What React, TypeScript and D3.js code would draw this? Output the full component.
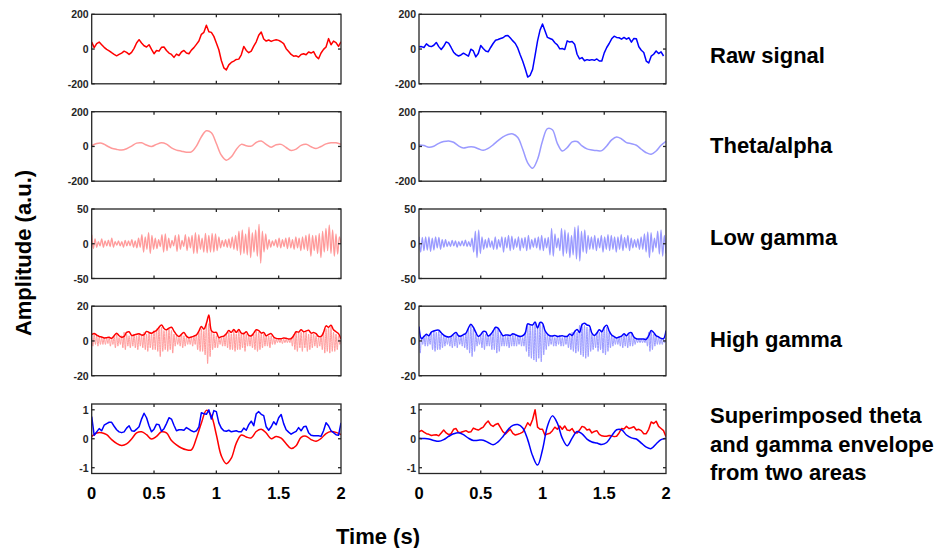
import React from "react";
import * as d3 from "d3";

// ---------------- data ----------------
const xTickValues = [0, 0.5, 1, 1.5, 2];
const xTickLabels = ["0", "0.5", "1", "1.5", "2"];
const rowLabels = [
  ["Raw signal"],
  ["Theta/alpha"],
  ["Low gamma"],
  ["High gamma"],
  ["Superimposed theta", "and gamma envelope", "from two areas"],
];
const rawTicks = [-200, 0, 200];
const thetaTicks = [-200, 0, 200];
const lowGammaTicks = [-50, 0, 50];
const highGammaTicks = [-20, 0, 20];
const overlayTicks = [-1, 0, 1];

// Raw signal, sampled every 0.02 s
const leftRaw = [40, 8, 31, 40, 25, 10, -2, -10, -21, -31,
  -39, -31, -23, -12, -19, -31, -19, 4, 35, 54,
  35, 19, 12, 25, -2, -27, -8, -12, 10, 12,
  -8, -23, -31, -48, -29, -37, -17, -8, -23, -27,
  -6, 8, 27, 46, 85, 96, 137, 100, 96, 73,
  35, -4, -66, -108, -120, -91, -77, -69, -60, -58,
  -33, 15, -8, -21, -12, 17, 42, 79, 98, 58,
  46, 52, 44, 50, 54, 50, 42, 31, 2, -14,
  -31, -41, -39, -46, -31, -27, -33, -17, -23, -15,
  -42, -56, -23, -2, 12, 60, 25, 46, 37, 15,
  42];
const rightRaw = [13, 14, 9, 30, 18, 14, 22, 38, 14, -3,
  16, 41, 34, 9, -18, -32, -40, -34, -24, -32,
  -41, -1, -11, -45, -26, 20, 3, -11, -16, 9,
  32, 51, 55, 61, 65, 76, 78, 63, 47, 32,
  5, -34, -70, -113, -161, -151, -117, -36, 47, 109,
  144, 105, 67, 61, 55, 36, 24, 1, 3, -3,
  47, 40, 43, 28, -30, -57, -49, -67, -61, -65,
  -61, -65, -57, -69, -69, -22, 9, 32, 59, 74,
  67, 65, 57, 67, 57, 65, 40, 61, 59, 13,
  -7, -20, -69, -80, -41, -30, -11, -26, -16, -40];

// Theta/alpha, sampled every 0.04 s
const leftTheta = [4, 17, 19, 4, -10, -17, -21, -13, 2, 19, 21, 8, 0, 12, 21, 13, -8, -21, -27, -33,
  -31, 2, 56, 90, 79, 17, -50, -79, -60, -17, 12, 4, 2, 23, 31, 12, -4, 10, 12, -6,
  -23, -15, 6, 12, -2, -12, 0, 15, 21, 21, 12];
const rightTheta = [9, 5, -5, 1, 18, 28, 32, 24, 3, -9, -3, -3, -13, -22, -11, 9, 34, 55, 69, 72,
  51, -16, -94, -125, -74, 32, 103, 96, 18, -26, -7, 26, 28, 3, -14, -20, -24, -24, 3, 38,
  55, 43, 22, 16, 7, -16, -36, -45, -26, 7, 30];

// Low gamma, successive peaks and troughs (150 over 2 s)
const leftLowGamma = [13, -7, 7, -5, 3, -3, 7, -5, 4, -3, 5, -4, 8, -5, 3, -2, 4, -3, 3, -5, 5, -3, 4, -3, 6, -5, 4, -6, 8, -5,
  13, -12, 10, -8, 16, -14, 12, -8, 8, -7, 6, -4, 13, -12, 14, -10, 8, -6, 5, -3, 12, -11, 13, -8, 5, -4, 13, -10, 10, -6,
  12, -14, 16, -14, 13, -8, 8, -12, 15, -13, 12, -12, 15, -12, 14, -10, 10, -6, 5, -4, 6, -5, 7, -6,
  10, -8, 12, -10, 18, -16, 20, -14, 14, -16, 24, -20, 16, -12, 20, -18, 28, -28, 18, -12, 14, -8,
  6, -5, 4, -3, 6, -5, 8, -6, 6, -4, 8, -7, 9, -6,
  6, -8, 10, -6, 8, -10, 10, -8, 12, -10, 14, -18, 12, -10, 12, -14, 15, -20, 18, -12, 22, -10, 27, -14, 20, -18, 14, -15, 10, 0];
const rightLowGamma = [10, -12, 9, -10, 10, -9, 10, -11, 8, -9, 10, -6, 9, -8, 6, -5, 6,
  -4, 3, -4, 5, -3, 4, -5, 3, -3, 4, -3, 5, -4, 3, -4, 8,
  -12, 18, -20, 20, -14, 10, -8,
  6, -6, 8, -5, 4, -8, 10, -8, 6, -5, 10, -12, 9, -6, 12, -10, 11, -8, 7, -5, 10, -10, 8, -6, 9, -10, 12, -8, 6, -5, 8, -6, 10, -9, 12, -10, 8, -6, 9,
  -16, 22, -18, 14, -6, 8, -10, 22, -18, 20, -14, 16, -20, 12, -16, 24, -22, 26, -25, 18, -12, 20, -14, 12, -8,
  10, -8, 12, -10, 8, -6, 12, -12, 10, -8, 13, -10, 12, -8, 10, -12, 10, -8, 13, -10, 9, -6, 12, -10, 8, -6, 6,
  -5, 7, -8, 10, -8, 14, -12, 17, -20, 16, -12, 8, -6, 18, -15, 20, -18, 12, -14];

// High gamma, sampled every 0.01 s
const leftHighGamma = [3, -3, 4, -2, 3, -3, 2, -2, 2, -2,
  2, -2, 1.5, -1.5, 2, -3, 1.5, -2, 3, -4,
  4, -3, 2, -2, 3, -4, 5, -5, 4, -3,
  3, -4, 3, -3, 4, -4, 3, -5, 4, -3,
  3, -4, 5, -5, 4, -6, 5, -4, 4, -5,
  6, -5, 7, -6, 8, -9, 8, -6, 6, -5,
  6, -6, 7, -5, 6, -7, 4, -3, 3, -2,
  2, -3, 4, -4, 3, -3, 2, -2, 2, -2,
  2, -3, 3, -2, 4, -5, 5, -6, 7, -6,
  6, -8, 11, -13, 10, -9, 6, -5, 4, -4,
  3, -4, 2, -2, 2, -3, 3, -3, 4, -4,
  5, -5, 4, -5, 6, -6, 4, -5, 6, -5,
  4, -4, 5, -6, 4, -3, 3, -3, 3, -4,
  4, -5, 6, -6, 5, -5, 4, -4, 4, -3,
  3, -3, 3, -4, 3, -2, 2, -2, 1, -1,
  1, -1, 1, -1.5, 1, -1, 1, -1, 1, -1,
  2, -3, 4, -5, 5, -6, 5, -4, 5, -6,
  5, -4, 5, -6, 4, -5, 4, -4, 4, -3,
  3, -4, 2, -3, 3, -5, 5, -7, 7, -6,
  8, -7, 8, -6, 5, -6, 4, -5, 3, -2,
  1];
const rightHighGamma = [8, -7, 2, -2, 3, -3, 4, -3, 3, -2,
  5, -5, 6, -6, 5, -5, 6, -5, 4, -4,
  3, -3, 2, -2, 2, -3, 3, -4, 4, -3,
  4, -4, 3, -2, 3, -3, 3, -4, 4, -5,
  7, -7, 9, -9, 7, -6, 4, -3, 2, -2,
  3, -4, 5, -5, 4, -3, 3, -3, 4, -5,
  6, -5, 8, -7, 7, -6, 4, -3, 3, -3,
  3, -3, 3, -4, 3, -3, 4, -3, 3, -3,
  3, -2, 3, -3, 2, -3, 5, -6, 9, -9,
  9, -10, 9, -11, 10, -12, 8, -10, 10, -12,
  9, -8, 6, -5, 4, -3, 3, -2, 3, -3,
  2, -3, 3, -2, 3, -3, 2, -3, 3, -2,
  3, -4, 3, -5, 5, -6, 6, -7, 5, -6,
  9, -8, 10, -9, 9, -10, 8, -9, 7, -6,
  4, -5, 3, -4, 5, -6, 5, -5, 6, -7,
  8, -8, 8, -6, 5, -4, 3, -3, 2, -2,
  2, -2, 2, -3, 3, -4, 4, -3, 3, -4,
  4, -3, 4, -3, 2, -2, 1, -1, 1, -1,
  1, -1, 1, -1, 2, -3, 5, -6, 6, -5,
  4, -3, 3, -2, 2, -2, 1, -2, 1, -1,
  2];

// High gamma envelope, sampled every 0.02 s
const leftEnvelope = [3.6, 4.3, 3.4, 2.6, 2.3, 1.7, 1.9, 2.1, 1.5, 3,
  4.5, 3, 2.1, 2.6, 4.9, 5.3, 3.2, 3.4, 3.8, 4.2,
  3.4, 3.6, 5.5, 4.9, 4.5, 5.3, 6, 7.9, 9.2, 7.2,
  6.4, 7.4, 7.9, 5.7, 3.6, 2.5, 3.8, 4.9, 2.8, 1.9,
  2.3, 2.8, 3.4, 5.7, 8.3, 6.8, 10, 15, 6, 4.9,
  4.9, 1.9, 2.5, 2.8, 4.2, 6, 4.9, 6.6, 4.9, 6.6,
  4.5, 4.2, 5.3, 3.2, 3, 4.5, 6.4, 6, 4.5, 4.9,
  3, 3.8, 4.2, 2.3, 1.5, 1.3, 1.3, 1.7, 1.5, 1.1,
  1.3, 3, 5.3, 5.1, 6.4, 5.3, 5.7, 6.2, 4.5, 4.9,
  4.2, 2.6, 2.6, 4.9, 8.7, 7.9, 9.1, 6.4, 5.3, 4.2,
  1.1];
const rightEnvelope = [8.3, 1.3, 2.6, 3.8, 3, 5.1, 5.7, 6.2, 6.2, 4.7,
  3.4, 2.6, 2.3, 2.6, 4, 4.9, 3, 2.8, 3.6, 4.5,
  7.4, 9.6, 7.9, 4.9, 2.6, 3.6, 5.5, 5.3, 2.8, 3.8,
  5.7, 7.9, 7.4, 5.1, 3, 3.4, 3.4, 3.2, 4.2, 3.6,
  3, 2.6, 3, 4.5, 9.8, 9.4, 9.2, 10.9, 7.4, 10.6,
  10.2, 6, 4, 3, 2.8, 3.2, 2.6, 2.8, 3, 2.6,
  2.6, 4, 3.2, 5.3, 6.6, 4.9, 9.4, 10.2, 9.2, 8.7,
  4.5, 3.2, 4.5, 6.4, 5.3, 7.9, 9.1, 5.7, 3.4, 2.5,
  1.7, 2.3, 2.8, 4.2, 3, 4.5, 4.7, 2.3, 1.3, 1.1,
  1.1, 1.1, 0.9, 3, 6, 4.9, 3, 2.3, 1.5, 1.3,
  6];

// Normalised theta for the superimposed panels, sampled every 0.04 s
const overlayLeftTheta = [0.08, 0.2, 0.21, 0.14, -0.03, -0.16, -0.23, -0.18, -0.01, 0.2,
  0.24, 0.14, -0.01, 0.08, 0.24, 0.2, -0.06, -0.21, -0.32, -0.38,
  -0.38, 0.02, 0.54, 0.98, 0.79, 0.14, -0.59, -0.86, -0.67, -0.15,
  0.13, 0.06, 0.03, 0.25, 0.33, 0.2, 0, 0.08, 0.02, -0.17,
  -0.34, -0.24, 0.05, 0.09, -0.03, -0.09, 0.01, 0.18, 0.25, 0.22,
  0.14];
const overlayRightTheta = [0.02, 0.01, -0.01, -0.06, -0.09, -0.03, 0.08, 0.17, 0.21, 0.14,
  0.02, -0.06, -0.05, -0.05, -0.13, -0.21, -0.11, 0.08, 0.31, 0.46,
  0.49, 0.37, -0.03, -0.59, -0.91, -0.38, 0.43, 0.79, 0.54, 0.02,
  -0.24, 0.02, 0.25, 0.17, -0.01, -0.11, -0.15, -0.2, -0.13, 0.1,
  0.31, 0.31, 0.13, 0.03, -0.01, -0.15, -0.29, -0.34, -0.18, -0.03,
  0.02];

// ---------------- styling ----------------
const FONT = "'Liberation Sans', Arial, Helvetica, sans-serif";
const AXIS = "#262626";
const RED = "#ff0000";
const BLUE = "#0000ff";
const LIGHT_RED = "#ff9a9a";
const LIGHT_BLUE = "#9a9aff";

const colX: [number, number][] = [[91.7, 341], [419, 666]];
const rowTop = [14.3, 111.7, 209, 306.2, 404];
const rowH = 69.5;

type Series = { values: number[]; step: number; color: string; width: number; curve: d3.CurveFactory };

const normalise = (arr: number[]) => {
  const m = d3.max(arr, (v) => Math.abs(v)) || 1;
  return arr.map((v) => v / m);
};

function Panel(props: {
  id: string; x0: number; x1: number; top: number; yDomain: [number, number];
  yTicks: number[]; series: Series[]; showX: boolean;
}) {
  const { id, x0, x1, top, yDomain, yTicks, series, showX } = props;
  const x = d3.scaleLinear().domain([0, 2]).range([x0, x1]);
  const y = d3.scaleLinear().domain(yDomain).range([top + rowH, top]);
  const tl = 3;
  return (
    <g>
      <defs>
        <clipPath id={id}>
          <rect x={x0} y={top} width={x1 - x0} height={rowH} />
        </clipPath>
      </defs>
      <g clipPath={`url(#${id})`}>
        {series.map((s, k) => {
          const gen = d3.line<number>()
            .x((_, i) => x(i * s.step))
            .y((d) => y(d))
            .curve(s.curve);
          return (
            <path key={k} d={gen(s.values) || ""} fill="none" stroke={s.color}
              strokeWidth={s.width} strokeLinejoin="round" />
          );
        })}
      </g>
      <rect x={x0} y={top} width={x1 - x0} height={rowH} fill="none" stroke={AXIS} strokeWidth={1.3} />
      {xTickValues.slice(1, -1).map((t) => (
        <g key={"xt" + t}>
          <line x1={x(t)} x2={x(t)} y1={top} y2={top + tl} stroke={AXIS} strokeWidth={1.3} />
          <line x1={x(t)} x2={x(t)} y1={top + rowH} y2={top + rowH - tl} stroke={AXIS} strokeWidth={1.3} />
        </g>
      ))}
      {yTicks.map((v) => (
        <g key={"yt" + v}>
          <line x1={x0} x2={x0 + tl} y1={y(v)} y2={y(v)} stroke={AXIS} strokeWidth={1.3} />
          <line x1={x1} x2={x1 - tl} y1={y(v)} y2={y(v)} stroke={AXIS} strokeWidth={1.3} />
          <text x={x0 - 3} y={y(v)} textAnchor="end" dominantBaseline="central"
            fontFamily={FONT} fontWeight="bold" fontSize={10.5} fill={AXIS}>
            {String(v)}
          </text>
        </g>
      ))}
      {showX && xTickValues.map((t, i) => (
        <text key={"xl" + t} x={x(t)} y={498.5} textAnchor="middle"
          fontFamily={FONT} fontWeight="bold" fontSize={16.5} fill="#000">
          {xTickLabels[i]}
        </text>
      ))}
    </g>
  );
}

export default function App() {
  const linear = d3.curveLinear;
  const smooth = d3.curveCatmullRom.alpha(0.5);
  const mono = d3.curveMonotoneX;
  const lgStep = 2 / (leftLowGamma.length - 1);
  const lgStepR = 2 / (rightLowGamma.length - 1);

  const rows: { domain: [number, number]; ticks: number[]; left: Series[]; right: Series[] }[] = [
    {
      domain: [-200, 200], ticks: rawTicks,
      left: [{ values: leftRaw, step: 0.02, color: RED, width: 1.5, curve: linear }],
      right: [{ values: rightRaw, step: 0.02, color: BLUE, width: 1.5, curve: linear }],
    },
    {
      domain: [-200, 200], ticks: thetaTicks,
      left: [{ values: leftTheta, step: 0.04, color: LIGHT_RED, width: 1.5, curve: smooth }],
      right: [{ values: rightTheta, step: 0.04, color: LIGHT_BLUE, width: 1.5, curve: smooth }],
    },
    {
      domain: [-50, 50], ticks: lowGammaTicks,
      left: [{ values: leftLowGamma, step: lgStep, color: LIGHT_RED, width: 1.3, curve: mono }],
      right: [{ values: rightLowGamma, step: lgStepR, color: LIGHT_BLUE, width: 1.3, curve: mono }],
    },
    {
      domain: [-20, 20], ticks: highGammaTicks,
      left: [
        { values: leftHighGamma, step: 0.01, color: LIGHT_RED, width: 1, curve: mono },
        { values: leftEnvelope, step: 0.02, color: RED, width: 1.5, curve: smooth },
      ],
      right: [
        { values: rightHighGamma, step: 0.01, color: LIGHT_BLUE, width: 1, curve: mono },
        { values: rightEnvelope, step: 0.02, color: BLUE, width: 1.5, curve: smooth },
      ],
    },
    {
      domain: [-1.2, 1.2], ticks: overlayTicks,
      left: [
        { values: overlayLeftTheta, step: 0.04, color: RED, width: 1.5, curve: smooth },
        { values: normalise(rightEnvelope), step: 0.02, color: BLUE, width: 1.5, curve: linear },
      ],
      right: [
        { values: normalise(leftEnvelope), step: 0.02, color: RED, width: 1.5, curve: linear },
        { values: overlayRightTheta, step: 0.04, color: BLUE, width: 1.5, curve: smooth },
      ],
    },
  ];

  const labelBaselines = [[63], [153], [245], [347], [423, 451.5, 479.5]];

  return (
    <svg width={948} height={548} viewBox="0 0 948 548"
      style={{ position: "absolute", left: 0, top: 0, background: "#fff" }}>
      <rect x={0} y={0} width={948} height={548} fill="#fff" />
      {rows.map((r, ri) => (
        <g key={ri}>
          <Panel id={`cl${ri}`} x0={colX[0][0]} x1={colX[0][1]} top={rowTop[ri]} yDomain={r.domain}
            yTicks={r.ticks} series={r.left} showX={ri === rows.length - 1} />
          <Panel id={`cr${ri}`} x0={colX[1][0]} x1={colX[1][1]} top={rowTop[ri]} yDomain={r.domain}
            yTicks={r.ticks} series={r.right} showX={ri === rows.length - 1} />
          {rowLabels[ri].map((line, li) => (
            <text key={li} x={710} y={labelBaselines[ri][li]} fontFamily={FONT} fontWeight="bold"
              fontSize={22} fill="#000">{line}</text>
          ))}
        </g>
      ))}
      <text x={378} y={544} textAnchor="middle" fontFamily={FONT} fontWeight="bold" fontSize={22} fill="#000">
        Time (s)
      </text>
      <text transform="translate(23,253) rotate(-90)" textAnchor="middle" dominantBaseline="central"
        fontFamily={FONT} fontWeight="bold" fontSize={22} fill="#000">
        Amplitude (a.u.)
      </text>
    </svg>
  );
}
